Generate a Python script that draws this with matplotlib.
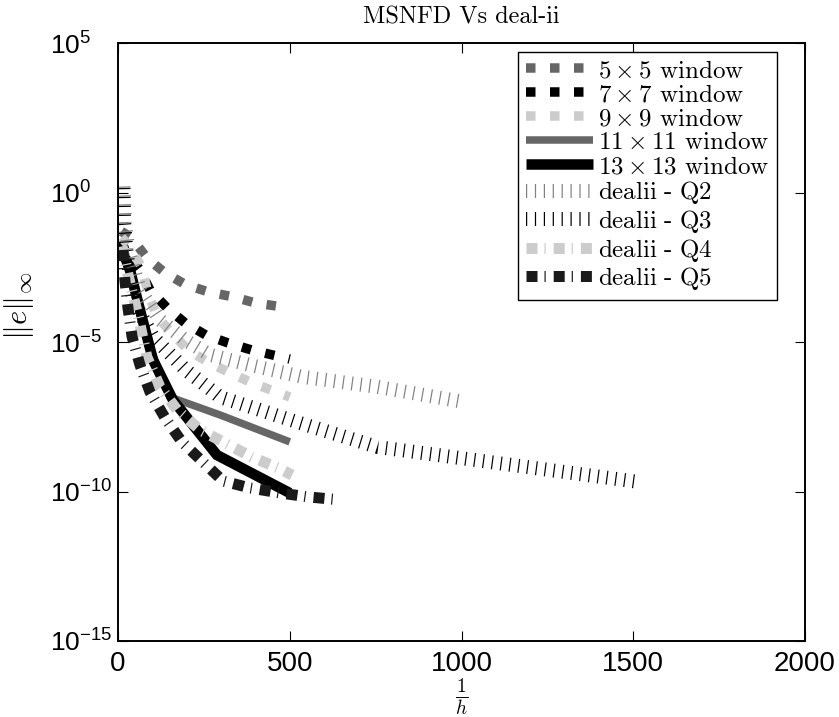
import numpy as np
import matplotlib
matplotlib.use("Agg")
import matplotlib.pyplot as plt

plt.rcParams["mathtext.fontset"] = "cm"
plt.rcParams["lines.scale_dashes"] = False
plt.rcParams["axes.unicode_minus"] = True

# 1/h values and log10 of the max-norm error for each method
x_5x5 = [10, 40, 84, 137, 198, 265, 335, 402, 500]
e_5x5 = [-1.30, -1.52, -2.19, -2.69, -3.09, -3.33, -3.49, -3.70, -3.86]

x_7x7 = [10, 20, 64, 93, 143, 195, 256, 320, 390, 500]
e_7x7 = [-1.60, -1.92, -2.59, -3.26, -3.86, -4.36, -4.77, -5.03, -5.27, -5.57]

x_9x9 = [10, 35, 70, 87, 114, 157, 204, 262, 327, 391, 500]
e_9x9 = [-1.50, -1.82, -2.53, -3.36, -4.16, -4.70, -5.27, -5.67, -6.04, -6.37, -6.84]

x_11x11 = [10, 30, 60, 100, 151, 297, 500]
e_11x11 = [-1.90, -2.60, -3.90, -5.40, -6.84, -7.44, -8.34]

x_13x13 = [12, 35, 64, 102, 160, 288, 500]
e_13x13 = [-1.92, -2.59, -3.93, -5.60, -6.94, -8.78, -10.05]

x_q2 = [16, 20, 30, 64, 122, 195, 268, 385, 539, 755, 1004]
e_q2 = [0.20, -1.00, -1.90, -3.26, -4.26, -4.93, -5.43, -5.77, -6.17, -6.50, -7.00]

x_q3 = [16, 18, 24, 44, 102, 198, 297, 530, 755, 1516]
e_q3 = [0.15, -1.00, -1.90, -3.60, -4.83, -5.94, -6.84, -7.71, -8.51, -9.68]

x_q4 = [12, 30, 60, 84, 122, 172, 239, 312, 390, 466, 507]
e_q4 = [-1.80, -2.80, -4.20, -5.50, -6.50, -7.27, -7.94, -8.38, -8.85, -9.21, -9.45]

x_q5 = [15, 20, 29, 41, 64, 93, 137, 186, 247, 306, 384, 472, 553, 646]
e_q5 = [-1.92, -2.93, -3.86, -4.83, -5.77, -6.67, -7.54, -8.34, -9.01, -9.65,
        -9.88, -10.05, -10.18, -10.28]

labels = [r"$5\times5$ window", r"$7\times7$ window", r"$9\times9$ window",
          r"$11\times11$ window", r"$13\times13$ window",
          r"dealii$\ $-$\ $Q2", r"dealii$\ $-$\ $Q3",
          r"dealii$\ $-$\ $Q4", r"dealii$\ $-$\ $Q5"]

x_ticks = [0, 500, 1000, 1500, 2000]
y_ticks = [1e5, 1e0, 1e-5, 1e-10, 1e-15]
y_tick_labels = [r"$\mathregular{10^{5}}$", r"$\mathregular{10^{0}}$",
                 r"$\mathregular{10^{-5}}$", r"$\mathregular{10^{-10}}$",
                 r"$\mathregular{10^{-15}}$"]

W, H = 839, 717
PX = 72.0 / 100.0  # points per pixel at dpi 100

fig = plt.figure(figsize=(W / 100, H / 100), dpi=100)
ax = fig.add_axes([118 / W, (H - 641) / H, 687 / W, 598 / H])

square_dash = (0, (9.5 * PX, 14.5 * PX))
bar_dash = (0, (1.2 * PX, 7.7 * PX))
dashdot = (0, (11 * PX, 7 * PX, 1.2 * PX, 8 * PX))

series = [
    (x_5x5, e_5x5, dict(color="#666666", lw=9.5 * PX, linestyle=square_dash)),
    (x_7x7, e_7x7, dict(color="#000000", lw=9.5 * PX, linestyle=square_dash)),
    (x_9x9, e_9x9, dict(color="#cccccc", lw=9.5 * PX, linestyle=square_dash)),
    (x_11x11, e_11x11, dict(color="#666666", lw=7.5 * PX, linestyle="-")),
    (x_13x13, e_13x13, dict(color="#000000", lw=10.5 * PX, linestyle="-")),
    (x_q2, e_q2, dict(color="#808080", lw=14 * PX, linestyle=bar_dash)),
    (x_q3, e_q3, dict(color="#000000", lw=14 * PX, linestyle=bar_dash)),
    (x_q4, e_q4, dict(color="#cccccc", lw=11 * PX, linestyle=dashdot)),
    (x_q5, e_q5, dict(color="#1a1a1a", lw=11 * PX, linestyle=dashdot)),
]

for (xs, es, style), lab in zip(series, labels):
    ax.plot(xs, 10.0 ** np.asarray(es), label=lab, solid_capstyle="butt",
            dash_capstyle="butt", solid_joinstyle="miter", **style)

ax.set_yscale("log")
ax.set_xlim(0, 2000)
ax.set_ylim(1e-15, 1e5)
ax.set_xticks(x_ticks)
ax.set_xticklabels([str(t) for t in x_ticks])
ax.set_yticks(y_ticks)
ax.set_yticklabels(y_tick_labels)
ax.minorticks_off()
ax.tick_params(direction="in", length=7, width=0.8, top=True, right=True)
ax.tick_params(axis="x", pad=7, labelsize=20)
# y labels: the "10" starts at a fixed column, the exponent runs toward the axis
ax.tick_params(axis="y", pad=68 * PX, labelsize=19)
for lbl in ax.get_yticklabels():
    lbl.set_horizontalalignment("left")
for lbl in ax.get_xticklabels() + ax.get_yticklabels():
    lbl.set_fontfamily("Liberation Sans")
for sp in ax.spines.values():
    sp.set_linewidth(1.4)

ax.set_title("MSNFD Vs deal-ii", fontfamily="cmr10", fontsize=17.5, pad=14)
ax.set_xlabel(r"$\frac{1}{h}$", fontsize=20, labelpad=0)
ax.set_ylabel(r"$\|e\|_\infty$", fontsize=22)
ax.yaxis.set_label_coords((36 - 118) / 687, 0.56)

leg = ax.legend(loc="upper right", bbox_to_anchor=(777 / W, (H - 52) / H),
                bbox_transform=fig.transFigure, borderaxespad=0,
                prop={"family": "cmr10", "size": 18},
                handlelength=2.7, handletextpad=0.2, labelspacing=0.06,
                borderpad=0.3, fancybox=False, framealpha=1,
                edgecolor="black")
leg.get_frame().set_linewidth(1.0)

fig.savefig("out.png", dpi=100)
